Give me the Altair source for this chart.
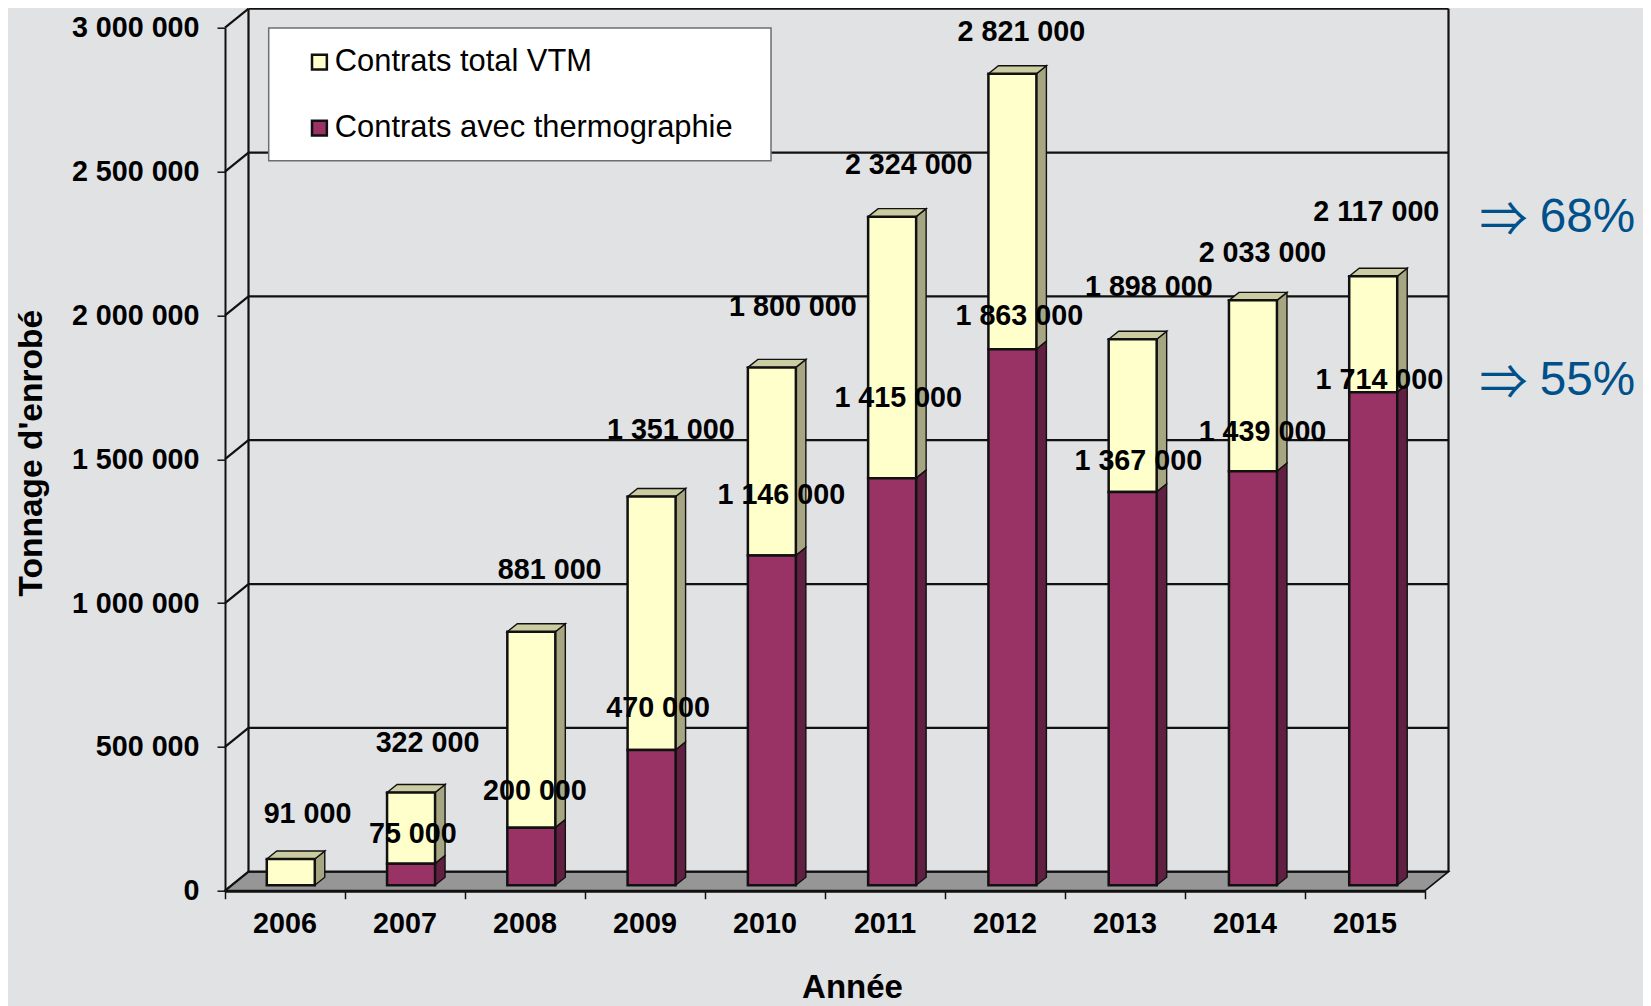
import altair as alt
import pandas as pd

# ---- values ----
years = [2006, 2007, 2008, 2009, 2010, 2011, 2012, 2013, 2014, 2015]
total = [91000, 322000, 881000, 1351000, 1800000, 2324000, 2821000, 1898000, 2033000, 2117000]
thermo = [0, 75000, 200000, 470000, 1146000, 1415000, 1863000, 1367000, 1439000, 1714000]
series_names = ["Contrats total VTM", "Contrats avec thermographie"]
y_ticks = [0, 500000, 1000000, 1500000, 2000000, 2500000, 3000000]

# hand-placed label offsets, in pixels from each value's axis position
total_dx = [22.5, 22.5, 24.7, 25.8, 27.9, 23.7, 16.4, 23.8, 17.5, 11.3]
total_dy = [-50.5, -55.5, -67.4, -72.3, -66.3, -56.7, -47.4, -58.1, -53, -69.8]
thermo_dx = [0, 7.8, 9.9, 13.1, 16.3, 13.2, 14.3, 13.3, 17.5, 14.4]
thermo_dy = [0, -34.9, -42.2, -47.7, -65.9, -85.5, -38.7, -36.1, -44.9, -17.4]

BG = "#E1E2E4"
CREAM, CREAM_SIDE, CREAM_TOP = "#FFFFCC", "#A6A682", "#CCCCA3"
PURPLE, PURPLE_SIDE = "#993366", "#612041"
INK = "#111111"
FONT = "Liberation Sans"

PLOT_W, PLOT_H = 1200, 863
px_x = 1.0 / 120                # year units per pixel
px_y = 3000000.0 / PLOT_H       # value units per pixel

bar_half = 24 * px_x
bar_sx = 7 * px_x
bar_sy = 5.5 * px_y
bar_spread = 0.00225            # the 3D bars run slightly wider than the axis
depth_x = 10 * px_x
depth_y = 8 * px_y
wall_x = 23.5 * px_x
wall_y = 19 * px_y
x_lo, x_hi = years[0] - 0.5, years[-1] + 0.5
y_top = y_ticks[-1]

xs = alt.Scale(domain=[x_lo, x_hi], nice=False, zero=False)
ys = alt.Scale(domain=[0, y_top], nice=False, zero=False)

axis_x = alt.Axis(
    values=[x_lo + i for i in range(len(years) + 1)],
    labelExpr=f"datum.value < {x_hi} ? toString(floor(datum.value + 1)) : ''",
    labelOffset=59.5,
    labelFontSize=28.7,
    labelFontWeight="bold",
    labelFont=FONT,
    labelColor="#000000",
    labelPadding=11,
    labelOverlap=False,
    labelFlush=False,
    tickSize=8,
    tickWidth=1.5,
    tickColor=INK,
    domainColor=INK,
    domainWidth=3,
    grid=False,
    zindex=1,
    title="Année",
    titleFont=FONT,
    titleFontSize=33,
    titleFontWeight="bold",
    titleColor="#000000",
    titleX=627,
    titleY=97,
    titleAnchor="middle",
    titleBaseline="middle",
)
axis_y = alt.Axis(
    values=y_ticks,
    format=",d",
    labelExpr="replace(datum.label, regexp(',', 'g'), ' ')",
    labelFontSize=28.7,
    labelFontWeight="bold",
    labelFont=FONT,
    labelColor="#000000",
    labelPadding=18,
    labelOverlap=False,
    labelFlush=False,
    tickSize=8,
    tickWidth=1.5,
    tickColor=INK,
    domainColor=INK,
    domainWidth=2,
    grid=False,
    zindex=1,
    title="Tonnage d'enrobé",
    titleFont=FONT,
    titleFontSize=33.5,
    titleFontWeight="bold",
    titleColor="#000000",
    titleX=-194,
    titleY=425,
    titleAngle=270,
    titleAnchor="middle",
    titleBaseline="middle",
)


def X(f="x"):
    return alt.X(f"{f}:Q", scale=xs, axis=axis_x)


def X2(f="x2"):
    return alt.X2(f"{f}")


def Y(f="y"):
    return alt.Y(f"{f}:Q", scale=ys, axis=axis_y, stack=None)


def Y2(f="y2"):
    return alt.Y2(f"{f}")


# ---- wall and floor ----
grid = pd.DataFrame({"x": x_lo + wall_x, "x2": x_hi + wall_x, "y": [v + wall_y for v in y_ticks]})
diag = pd.DataFrame(
    [{"k": v, "x": x_lo, "y": v} for v in y_ticks] + [{"k": v, "x": x_lo + wall_x, "y": v + wall_y} for v in y_ticks]
)
verticals = pd.DataFrame(
    [
        {"x": x_lo + wall_x, "y": wall_y, "y2": y_top + wall_y},
        {"x": x_hi + wall_x, "y": wall_y, "y2": y_top + wall_y},
    ]
)
floor = pd.DataFrame(
    [
        {"x": x_lo, "y": 0, "y2": 0},
        {"x": x_lo + wall_x, "y": 0, "y2": wall_y},
        {"x": x_hi, "y": 0, "y2": wall_y},
        {"x": x_hi + wall_x, "y": wall_y, "y2": wall_y},
    ]
)

floor_layer = alt.Chart(floor).mark_area(color="#969696", stroke=INK, strokeWidth=1.5, opacity=1, interpolate="linear").encode(
    x=X(), y=Y(), y2=Y2()
)
grid_layer = alt.Chart(grid).mark_rule(color=INK, strokeWidth=2.2).encode(x=X(), x2=X2(), y=Y())
diag_layer = alt.Chart(diag).mark_line(color=INK, strokeWidth=2.2).encode(x=X(), y=Y(), detail="k:N")
vert_layer = alt.Chart(verticals).mark_rule(color=INK, strokeWidth=2.2).encode(x=X(), y=Y(), y2=Y2())

# ---- bars ----
fronts, sides, tops = [], [], []
for yr, t, h in zip(years, total, thermo):
    cx = yr + bar_sx + (yr - 2010.5) * bar_spread
    xl, xr = cx - bar_half, cx + bar_half
    segments = [(series_names[0], h, t, CREAM_SIDE)]
    if h > 0:
        segments.append((series_names[1], 0, h, PURPLE_SIDE))
    for name, lo, hi, side in segments:
        fronts.append({"x": xl, "x2": xr, "y": lo + bar_sy, "y2": hi + bar_sy, "serie": name})
        sides.append({"k": f"{yr}{name}", "c": side, "x": xr, "y": lo + bar_sy, "y2": hi + bar_sy})
        sides.append({"k": f"{yr}{name}", "c": side, "x": xr + depth_x, "y": lo + bar_sy + depth_y, "y2": hi + bar_sy + depth_y})
    top = t + bar_sy
    for x, a, b in [
        (xl, top, top),
        (xl + depth_x, top, top + depth_y),
        (xr, top, top + depth_y),
        (xr + depth_x, top + depth_y, top + depth_y),
    ]:
        tops.append({"k": yr, "x": x, "y": a, "y2": b})

side_layer = alt.Chart(pd.DataFrame(sides)).mark_area(stroke=INK, strokeWidth=1.4, opacity=1).encode(
    x=X(), y=Y(), y2=Y2(), detail="k:N", fill=alt.Fill("c:N", scale=None, legend=None)
)
top_layer = alt.Chart(pd.DataFrame(tops)).mark_area(color=CREAM_TOP, stroke=INK, strokeWidth=1.4, opacity=1).encode(
    x=X(), y=Y(), y2=Y2(), detail="k:N"
)

legend_box = alt.Chart(pd.DataFrame({"a": [1]})).mark_rect(fill="#FFFFFF", stroke="#6E6E6E", strokeWidth=1.5).encode(
    x=alt.value(43.7), x2=alt.value(546), y=alt.value(0.3), y2=alt.value(133)
)

front_layer = alt.Chart(pd.DataFrame(fronts)).mark_rect(stroke=INK, strokeWidth=2.5).encode(
    x=X(),
    x2=X2(),
    y=Y(),
    y2=Y2(),
    color=alt.Color(
        "serie:N",
        scale=alt.Scale(domain=series_names, range=[CREAM, PURPLE]),
        legend=alt.Legend(
            title=None,
            orient="none",
            legendX=79,
            legendY=19,
            padding=0,
            symbolType="square",
            symbolSize=220,
            symbolStrokeColor=INK,
            symbolStrokeWidth=2.5,
            symbolOpacity=1,
            labelFont=FONT,
            labelFontSize=30.85,
            labelColor="#000000",
            labelLimit=600,
            labelOffset=0,
            rowPadding=34,
        ),
    ),
)


# ---- value labels ----
def fmt(v):
    return f"{v:,}".replace(",", " ")


labels = []
for yr, t, h, tdx, tdy, hdx, hdy in zip(years, total, thermo, total_dx, total_dy, thermo_dx, thermo_dy):
    labels.append({"x": yr + tdx * px_x, "y": t - tdy * px_y, "txt": fmt(t)})
    if h > 0:
        labels.append({"x": yr + hdx * px_x, "y": h - hdy * px_y, "txt": fmt(h)})

label_layer = alt.Chart(pd.DataFrame(labels)).mark_text(
    font=FONT, fontSize=28.7, fontWeight="bold", color="#000000", align="center", baseline="middle"
).encode(x=X(), y=Y(), text="txt:N")

# ---- side annotations ----
notes = pd.DataFrame({
    "pct": ["68%", "55%"],
    "arrow": ["⇒", "⇒"],
    "xp": [x_hi + 162.5 * px_x] * 2,
    "xa": [x_hi + 78.5 * px_x] * 2,
    "y": [(PLOT_H - 190.3) * px_y, (PLOT_H - 353.3) * px_y],
})
pct_layer = alt.Chart(notes).mark_text(
    font=FONT, fontSize=47.7, color="#00508A", align="center", baseline="middle"
).encode(x=X("xp"), y=Y(), text="pct:N")
arrow_layer = alt.Chart(notes).mark_text(
    font="Noto Sans CJK SC", fontSize=48, color="#00508A", align="center", baseline="middle", dy=4
).encode(x=X("xa"), y=Y(), text="arrow:N")

chart = (
    alt.layer(
        floor_layer,
        grid_layer,
        diag_layer,
        vert_layer,
        legend_box,
        side_layer,
        top_layer,
        front_layer,
        label_layer,
        pct_layer,
        arrow_layer,
    )
    .properties(
        width=PLOT_W,
        height=PLOT_H,
        background=BG,
        autosize=alt.AutoSizeParams(type="none"),
        padding={"left": 217, "top": 19.7, "right": 218, "bottom": 115.3},
    )
    .configure_view(stroke=None)
)

chart.save("out.html", embed_options={"renderer": "svg", "actions": False})
